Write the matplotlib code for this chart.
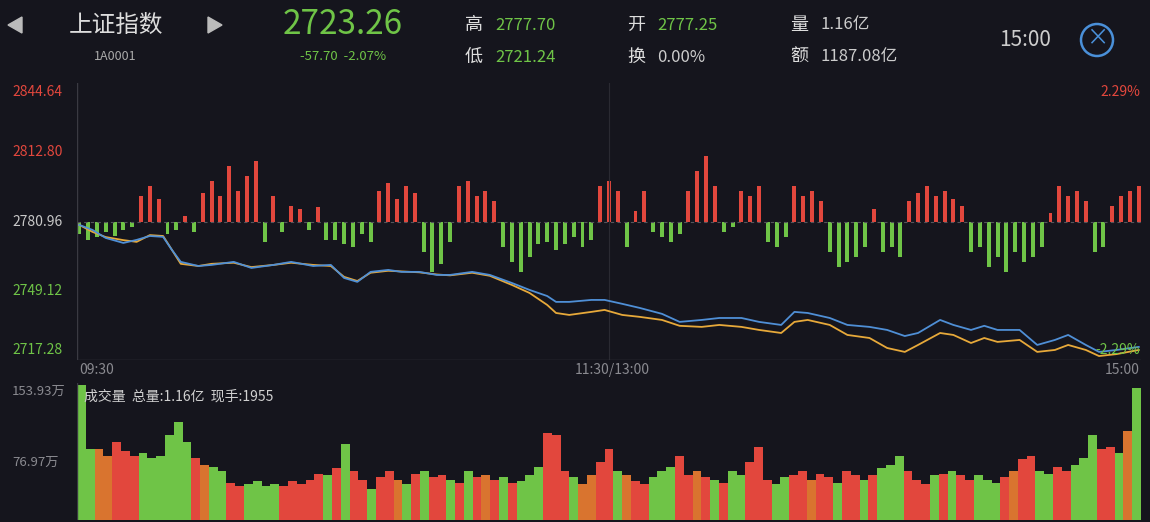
import matplotlib
matplotlib.use('Agg')
import matplotlib.pyplot as plt
import numpy as np
from matplotlib.patches import Circle, Polygon

plt.rcParams['font.family'] = ['Noto Sans CJK SC', 'DejaVu Sans']

W, H = 1150, 522
BG = '#15151d'
RED = '#e2473d'
GREEN = '#6fc447'
ORANGE = '#d9742f'
GRAY = '#8a8a90'

# price lines (minute index from 09:30, 241 minutes)
minutes = [0, 3, 6, 10, 13, 16, 19, 21, 23, 27, 30, 35, 39, 44, 48, 53, 57, 60, 63, 66,
           70, 73, 77, 81, 84, 89, 93, 98, 102, 106, 108, 111, 116, 119, 123, 127, 132,
           136, 141, 145, 150, 154, 159, 162, 165, 170, 174, 179, 183, 187, 190, 195,
           198, 202, 205, 208, 213, 217, 221, 224, 228, 231, 235, 240]
price = [2779.4, 2777.1, 2773.4, 2771.1, 2772.5, 2774.3, 2773.9, 2767.9, 2762.4, 2760.5,
         2761.0, 2762.4, 2759.6, 2761.0, 2762.4, 2760.5, 2761.0, 2755.0, 2753.2, 2757.8,
         2758.7, 2757.8, 2757.8, 2756.4, 2756.4, 2757.8, 2756.4, 2752.7, 2749.5, 2746.7,
         2744.0, 2744.0, 2744.9, 2744.9, 2743.1, 2741.2, 2738.5, 2734.8, 2735.7, 2736.6,
         2736.6, 2734.8, 2733.4, 2739.4, 2738.9, 2736.6, 2733.4, 2732.5, 2731.1, 2728.3,
         2729.7, 2735.7, 2733.4, 2731.1, 2733.0, 2731.1, 2731.1, 2724.2, 2726.5, 2728.8,
         2724.2, 2721.0, 2721.9, 2723.3]
avg_price = [2779.4, 2776.2, 2773.8, 2772.4, 2771.6, 2774.7, 2774.3, 2767.9, 2761.5, 2760.5,
             2761.5, 2762.0, 2760.0, 2761.0, 2762.0, 2761.0, 2760.5, 2755.5, 2753.6, 2757.4,
             2758.3, 2758.0, 2757.6, 2756.6, 2756.2, 2757.4, 2756.0, 2751.8, 2748.1, 2742.6,
             2738.9, 2738.0, 2739.4, 2740.3, 2738.0, 2737.1, 2735.7, 2733.0, 2732.5, 2733.4,
             2732.5, 2731.1, 2729.7, 2734.8, 2735.7, 2733.4, 2728.8, 2727.4, 2722.8, 2721.0,
             2724.2, 2729.7, 2728.8, 2725.1, 2727.4, 2725.6, 2726.5, 2721.0, 2721.9, 2724.2,
             2721.9, 2719.1, 2720.0, 2721.9]

# red/green strength bars, one per 2 minutes
strength = [-12, -18, -15, -10, -14, -8, -5, 25, 35, 22, -12, -8, 5, -10,
            28, 40, 25, 55, 30, 45, 60, -20, 25, -10, 15, 12, -8, 14, -18,
            -18, -22, -25, -12, -20, 30, 38, 22, 35, 28, -30, -50, -42, -20,
            35, 40, 25, 30, 20, -25, -40, -50, -35, -22, -20, -28, -22, -15, -25, -18,
            35, 40, 30, -25, 10, 30, -10, -15, -20, -12, 30, 50, 65, 35, -10, -5,
            30, 25, 35, -20, -25, -15, 35, 25, 30, 20, -30, -45, -40, -35, -25, 12,
            -30, -25, -35, 20, 28, 35, 25, 30, 22, 15, -30, -25, -45, -35, -50, -30,
            -40, -35, -25, 8, 35, 25, 30, 20, -30, -25, 15, 25, 30, 35]

# volume (万), one per 2 minutes
volume = [152, 80, 80, 72, 88, 78, 72, 75, 70, 72, 95, 110, 88, 70, 62, 60, 55, 42, 38, 40,
          44, 38, 40, 38, 44, 40, 45, 52, 50, 58, 85, 55, 45, 35, 48, 55, 45, 40, 52, 55,
          48, 50, 45, 42, 55, 48, 50, 45, 48, 42, 44, 50, 60, 98, 95, 55, 48, 40, 50, 65,
          80, 55, 50, 44, 40, 48, 55, 60, 72, 50, 55, 48, 45, 42, 55, 50, 65, 82, 45, 40,
          48, 50, 55, 45, 52, 48, 42, 55, 50, 45, 50, 58, 62, 72, 55, 45, 40, 50, 52, 55,
          50, 45, 50, 45, 42, 48, 55, 68, 72, 55, 52, 60, 55, 62, 70, 95, 80, 82, 75, 100, 148]
vol_colors = ('ggoorrrggggggroggrrg'
              'gggrrrrrgrgrrgrrogr'
              'grrgrgrorgrgggrrrgoo'
              'rrgorrgggrrorgrggrrr'
              'ggrrorrgrrgrgggrrrgr'
              'grrgggrorrggrrgggrrgo')

PRICE_LO, PRICE_HI, PRE_CLOSE = 2717.28, 2844.64, 2780.96
VOL_MAX = 153.93

fig = plt.figure(figsize=(W / 100, H / 100), dpi=100, facecolor=BG)


def px_axes(x0, y0, x1, y1):
    ax = fig.add_axes([x0 / W, 1 - y1 / H, (x1 - x0) / W, (y1 - y0) / H])
    ax.set_facecolor(BG)
    for s in ax.spines.values():
        s.set_visible(False)
    ax.set_xticks([])
    ax.set_yticks([])
    return ax


def txt(x, y, s, **kw):
    fig.text(x / W, 1 - y / H, s, va='center', **kw)


# price panel
ax = px_axes(77, 83, 1141, 360)
ax.set_xlim(-0.5, 240.5)
ax.set_ylim(PRICE_LO, PRICE_HI)
ax.axhline(PRE_CLOSE, color='#55555c', lw=0.8, ls=(0, (3, 3)))
ax.axvline(120, color='#2a2a32', lw=0.8)
ax.axvline(-0.5, color='#3a3a42', lw=1)
ax.axhline(PRICE_LO, color='#3a3a42', lw=1)
s = np.array(strength) * 0.46
bx = np.arange(len(strength)) * 2
ax.bar(bx, s, bottom=PRE_CLOSE, width=0.9,
       color=[RED if v > 0 else GREEN for v in s])
ax.plot(minutes, avg_price, color='#e7a93a', lw=1.3)
ax.plot(minutes, price, color='#4f8fd6', lw=1.3)

# volume panel
av = px_axes(77, 383, 1141, 520)
av.set_xlim(-1, 241)
av.set_ylim(0, VOL_MAX)
av.axvline(-1, color='#3a3a42', lw=1)
cmap = {'r': RED, 'g': GREEN, 'o': ORANGE}
av.bar(np.arange(len(volume)) * 2, volume, width=2.0,
       color=[cmap[c] for c in vol_colors[:len(volume)]])

# axis labels
txt(12, 92, '2844.64', color=RED, fontsize=10)
txt(12, 152, '2812.80', color=RED, fontsize=10)
txt(12, 222, '2780.96', color='#c8c8c8', fontsize=10)
txt(12, 291, '2749.12', color=GREEN, fontsize=10)
txt(12, 350, '2717.28', color=GREEN, fontsize=10)
txt(1140, 92, '2.29%', color=RED, fontsize=10, ha='right')
txt(1140, 350, '-2.29%', color=GREEN, fontsize=10, ha='right')
txt(79, 370, '09:30', color=GRAY, fontsize=10)
txt(612, 370, '11:30/13:00', color=GRAY, fontsize=10, ha='center')
txt(1140, 370, '15:00', color=GRAY, fontsize=10, ha='right')
txt(12, 391, '153.93万', color=GRAY, fontsize=9.5)
txt(12, 462, '76.97万', color=GRAY, fontsize=9.5)
txt(84, 397, '成交量  总量:1.16亿  现手:1955', color='#d0d0d0', fontsize=10)

# header
fig.patches.append(Polygon([[8 / W, 1 - 25 / H], [22 / W, 1 - 17 / H], [22 / W, 1 - 33 / H]],
                           closed=True, transform=fig.transFigure, color='#bbbbbb'))
fig.patches.append(Polygon([[222 / W, 1 - 25 / H], [208 / W, 1 - 17 / H], [208 / W, 1 - 33 / H]],
                           closed=True, transform=fig.transFigure, color='#bbbbbb'))
txt(116, 25, '上证指数', color='#dddddd', fontsize=17, ha='center')
txt(115, 56, '1A0001', color='#aaaaaa', fontsize=9, ha='center')
txt(343, 25, '2723.26', color=GREEN, fontsize=24, ha='center')
txt(343, 56, '-57.70  -2.07%', color=GREEN, fontsize=9.5, ha='center')
for lx, ly, lab, val in [(465, 25, '高', '2777.70'), (465, 57, '低', '2721.24'),
                         (627, 25, '开', '2777.25'), (627, 57, '换', '0.00%'),
                         (790, 25, '量', '1.16亿'), (790, 57, '额', '1187.08亿')]:
    txt(lx, ly, lab, color='#dddddd', fontsize=13)
    txt(lx + 30, ly, val, color=GREEN if lab in '高低开' else '#cccccc', fontsize=12)
txt(1025, 40, '15:00', color='#cccccc', fontsize=15, ha='center')
fig.patches.append(Circle((10.97, (H - 40) / 100), 0.16, transform=fig.dpi_scale_trans,
                          fill=False, ec='#4a90d9', lw=1.8))
txt(1097, 39, '×', color='#4a90d9', fontsize=16, ha='center')

fig.savefig('out.png', dpi=100, facecolor=BG)
